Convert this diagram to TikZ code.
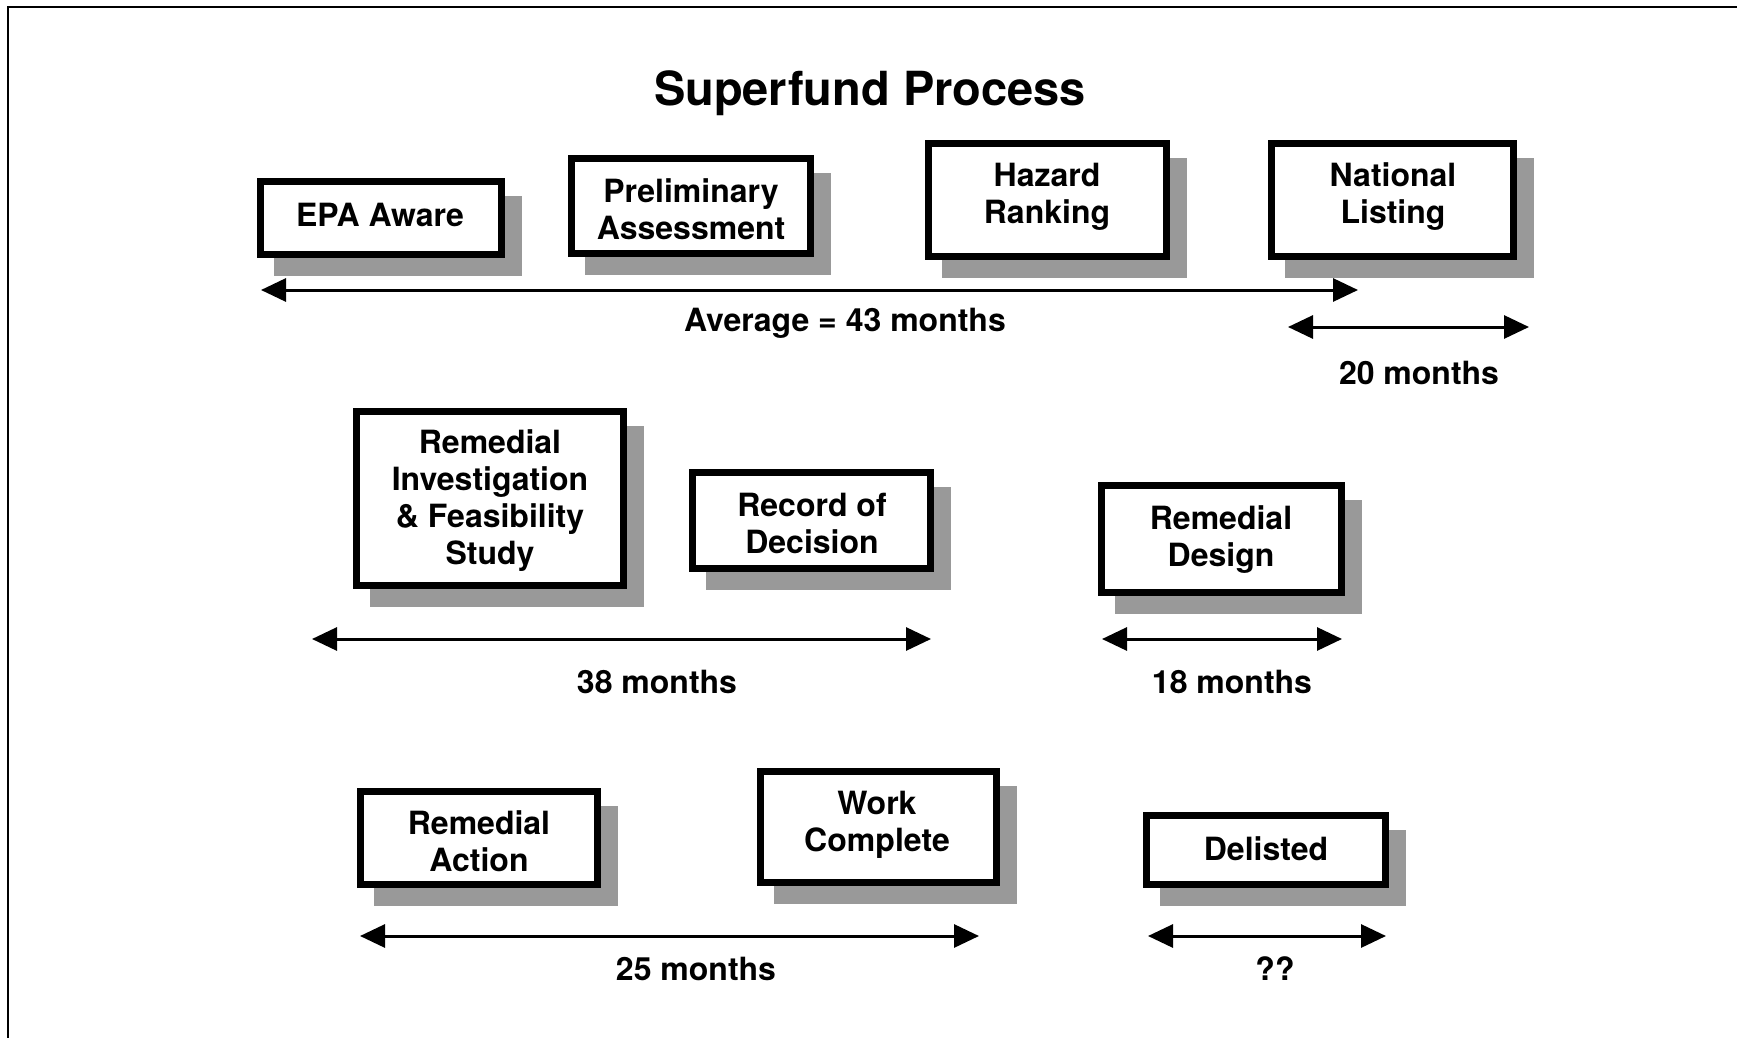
\documentclass[tikz,border=0pt]{standalone}
\usepackage{fontspec}
\setmainfont{TeX Gyre Heros}
\usetikzlibrary{arrows.meta,shadows}
\begin{document}
\begin{tikzpicture}[x=1pt,y=-1pt,
  stage/.style={draw=black, line width=7pt, fill=white, inner sep=0pt,
     drop shadow={shadow xshift=17pt, shadow yshift=-17.5pt, fill=black!40, draw=black!40, line width=7pt, opacity=1}},
  stagetext/.style={align=center, font=\fontsize{32}{37}\selectfont\bfseries, inner sep=0pt},
  span/.style={{Triangle[length=25pt,width=23pt]}-{Triangle[length=25pt,width=23pt]}, line width=3pt},
  spanlabel/.style={font=\fontsize{32}{37}\selectfont\bfseries, inner sep=0pt},
  titletext/.style={font=\fontsize{47}{56}\selectfont\bfseries, inner sep=0pt},
  frameline/.style={line width=2pt}]
\useasboundingbox (0,0) rectangle (1737,1038);
% frame
\coordinate (ftr) at (1737,7);
\coordinate (ftl) at (8,7);
\coordinate (fbl) at (8,1038);
\draw[frameline] (ftr) -- (ftl) -- (fbl);
% title
\node[titletext] (title) at (870,93) {Superfund Process};
% boxes
\node[stage, minimum width=241pt, minimum height=73pt] (epa) at (381,218) {};
\node[stagetext] (epat) at (380,215) {EPA Aware};
\node[stage, minimum width=239pt, minimum height=95pt] (pre) at (691,206) {};
\node[stagetext] (pret) at (691,209) {Preliminary\\Assessment};
\node[stage, minimum width=238pt, minimum height=113pt] (haz) at (1047.5,200) {};
\node[stagetext] (hazt) at (1047,197) {Hazard\\Ranking};
\node[stage, minimum width=242pt, minimum height=113pt] (nat) at (1392.5,200) {};
\node[stagetext] (natt) at (1393,197) {National\\Listing};
\node[stage, minimum width=267pt, minimum height=174pt] (ri) at (490,498.5) {};
\node[stagetext] (rit) at (490,501) {Remedial\\Investigation\\\& Feasibility\\Study};
\node[stage, minimum width=238pt, minimum height=96pt] (rod) at (811.5,520.5) {};
\node[stagetext] (rodt) at (812,523) {Record of\\Decision};
\node[stage, minimum width=240pt, minimum height=107pt] (rd) at (1221.5,539) {};
\node[stagetext] (rdt) at (1221,540) {Remedial\\Design};
\node[stage, minimum width=237pt, minimum height=93pt] (ra) at (479,838) {};
\node[stagetext] (rat) at (479,841) {Remedial\\Action};
\node[stage, minimum width=236pt, minimum height=111pt] (wc) at (878.5,827) {};
\node[stagetext] (wct) at (877,825) {Work\\Complete};
\node[stage, minimum width=239pt, minimum height=69pt] (del) at (1266,850) {};
\node[stagetext] (delt) at (1266,849) {Delisted};
% spans
\coordinate (a1l) at (261,290); \coordinate (a1r) at (1358,290);
\draw[span] (a1l) -- (a1r);
\node[spanlabel] (l1) at (845,323) {Average = 43 months};
\coordinate (a2l) at (1288,327); \coordinate (a2r) at (1529,327);
\draw[span] (a2l) -- (a2r);
\node[spanlabel] (l2) at (1419,373) {20 months};
\coordinate (a3l) at (312,639); \coordinate (a3r) at (931,639);
\draw[span] (a3l) -- (a3r);
\node[spanlabel] (l3) at (657,682) {38 months};
\coordinate (a4l) at (1102,639); \coordinate (a4r) at (1342,639);
\draw[span] (a4l) -- (a4r);
\node[spanlabel] (l4) at (1232,682) {18 months};
\coordinate (a5l) at (360,936); \coordinate (a5r) at (979,936);
\draw[span] (a5l) -- (a5r);
\node[spanlabel] (l5) at (696,969) {25 months};
\coordinate (a6l) at (1148,936); \coordinate (a6r) at (1386,936);
\draw[span] (a6l) -- (a6r);
\node[spanlabel] (l6) at (1275,969) {??};
\end{tikzpicture}
\end{document}
